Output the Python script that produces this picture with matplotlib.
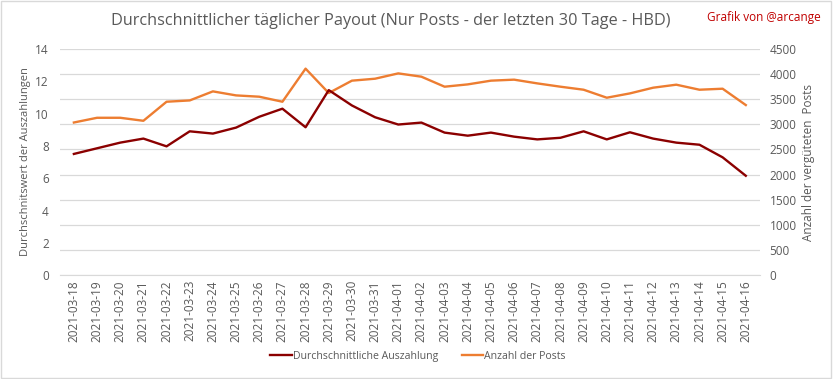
import numpy as np
import matplotlib
matplotlib.use("Agg")
import matplotlib.pyplot as plt

plt.rcParams['font.family'] = ['Open Sans', 'DejaVu Sans']

dates = ["2021-03-18", "2021-03-19", "2021-03-20", "2021-03-21", "2021-03-22",
         "2021-03-23", "2021-03-24", "2021-03-25", "2021-03-26", "2021-03-27",
         "2021-03-28", "2021-03-29", "2021-03-30", "2021-03-31", "2021-04-01",
         "2021-04-02", "2021-04-03", "2021-04-04", "2021-04-05", "2021-04-06",
         "2021-04-07", "2021-04-08", "2021-04-09", "2021-04-10", "2021-04-11",
         "2021-04-12", "2021-04-13", "2021-04-14", "2021-04-15", "2021-04-16"]
payout = [7.5, 7.85, 8.2, 8.45, 7.97, 8.9, 8.76, 9.13, 9.8, 10.3,
          9.15, 11.45, 10.5, 9.77, 9.32, 9.44, 8.82, 8.63, 8.82, 8.57,
          8.4, 8.5, 8.9, 8.4, 8.84, 8.45, 8.2, 8.07, 7.29, 6.15]
posts = [3036, 3130, 3130, 3070, 3449, 3475, 3655, 3575, 3549, 3449,
         4107, 3622, 3868, 3907, 4013, 3947, 3748, 3794, 3868, 3888,
         3814, 3748, 3688, 3529, 3615, 3728, 3788, 3688, 3708, 3383]

grey = '#595959'
red = '#8B0000'
orange = '#ED7D31'

fig = plt.figure(figsize=(8.33, 3.79), dpi=100)
ax = fig.add_axes([0.072, 0.274, 0.84, 0.597])
ax2 = ax.twinx()

x = np.arange(len(dates))
l1, = ax.plot(x, payout, color=red, lw=1.7, label="Durchschnittliche Auszahlung")
l2, = ax2.plot(x, posts, color=orange, lw=1.7, label="Anzahl der Posts")
ax.set_zorder(ax2.get_zorder() + 1)
ax.patch.set_visible(False)

ax.set_xlim(-0.6, len(dates) - 0.4)
ax.set_ylim(0, 14)
ax.set_yticks(np.arange(0, 15, 2))
ax2.set_ylim(0, 4500)
ax2.set_yticks(np.arange(0, 4501, 500))
ax2.grid(axis='y', color='#d9d9d9', lw=0.9)
ax2.set_axisbelow(True)

ax.set_xticks(x)
ax.set_xticklabels(dates, rotation=90, fontsize=8, color=grey)
for a in (ax, ax2):
    for s in a.spines.values():
        s.set_visible(False)
    a.tick_params(length=0, colors=grey, labelsize=8.5)
ax.spines['bottom'].set_visible(True)
ax.spines['bottom'].set_color('#d9d9d9')
ax.tick_params(axis='y', pad=8)
ax2.tick_params(axis='y', pad=7)

ax.set_ylabel("Durchschnitswert der Auszahlungen", color=grey, fontsize=8)
ax2.set_ylabel("Anzahl der vergüteten  Posts", color=grey, fontsize=8.5)
ax.yaxis.set_label_coords(-0.042, 0.5)
ax2.yaxis.set_label_coords(1.061, 0.5)

fig.text(0.469, 0.945, "Durchschnittlicher täglicher Payout (Nur Posts - der letzten 30 Tage - HBD)",
         ha='center', va='center', fontsize=11.7, color=grey)
fig.text(0.985, 0.955, "Grafik von @arcange", ha='right', va='center', fontsize=8.5, color='#C00000')

fig.legend(handles=[l1, l2], loc='center', bbox_to_anchor=(0.502, 0.06), ncol=2,
           frameon=False, fontsize=7.6, labelcolor=grey, handlelength=2.0,
           handletextpad=0.15, columnspacing=2.2)

fig.patches.append(plt.Rectangle((0.001, 0.003), 0.997, 0.994, transform=fig.transFigure,
                                 fill=False, edgecolor='#d9d9d9', lw=1))

fig.savefig("out.png", dpi=100)
